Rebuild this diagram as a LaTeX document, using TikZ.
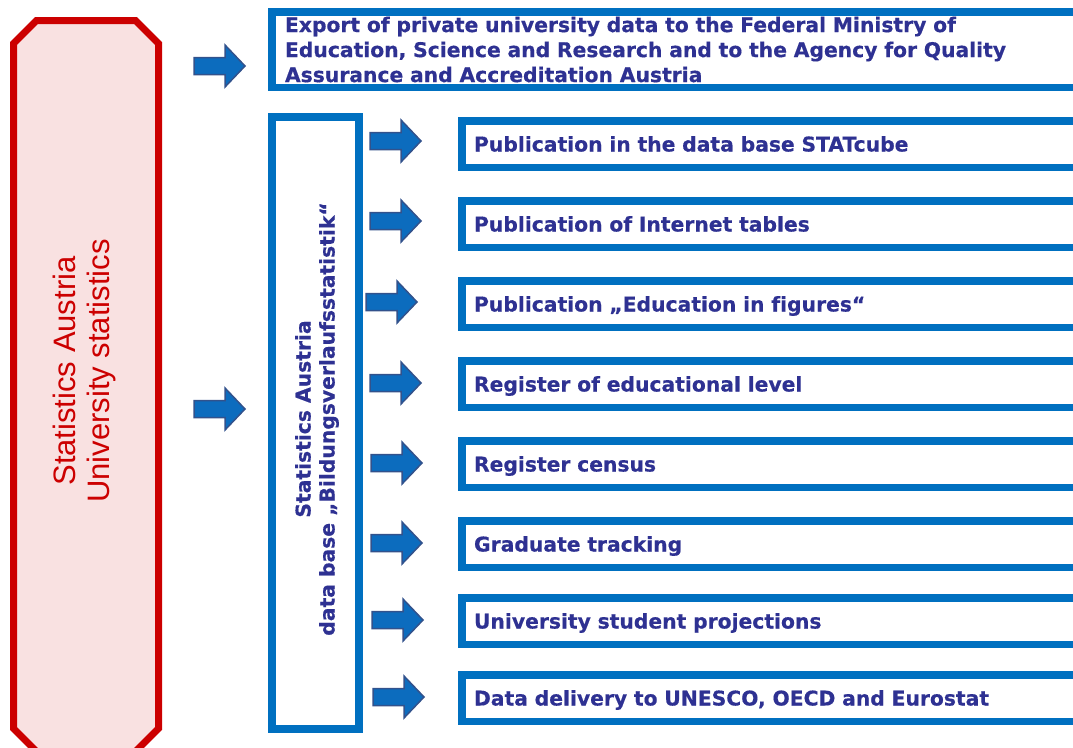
\documentclass[tikz,border=0pt]{standalone}
\usepackage{fontspec}
\setmainfont{DejaVu Sans}[Ligatures=NoCommon, BoldFeatures={FakeBold=0.4}]
\newfontfamily\redfont{Liberation Sans}
\usetikzlibrary{calc}

\definecolor{boxblue}{RGB}{0,112,192}
\definecolor{inkblue}{RGB}{46,49,146}
\definecolor{arrowfill}{RGB}{12,108,190}
\definecolor{arrowline}{RGB}{50,82,140}
\definecolor{octred}{RGB}{204,0,0}
\definecolor{octfill}{RGB}{249,225,225}

\tikzset{
  frame/.style={draw=boxblue, line width=7.5pt, fill=white, outer sep=3.75pt, inner ysep=0pt},
  label/.style={text=inkblue, font=\bfseries\fontsize{20.3}{24}\selectfont},
  item/.style={frame, label, anchor=north west, minimum height=46.5pt, text width=640pt,
    inner xsep=12.25pt, text height=15pt, text depth=0pt, align=left},
  pics/blockarrow/.style={code={
    \draw[fill=arrowfill, draw=arrowline, line width=1.5pt, line join=miter]
      (0,-8.5) -- (31,-8.5) -- (31,-21) -- (51,0) -- (31,21) -- (31,8.5) -- (0,8.5) -- cycle;}},
}

\begin{document}
\begin{tikzpicture}[x=1pt, y=-1pt]
\useasboundingbox (0,0) rectangle (1073,747);
\clip (0,0) rectangle (1073,747);

% source: university statistics (octagon)
\draw[draw=octred, fill=octfill, line width=7pt, line join=miter]
  (36.5,20.5) -- (135.5,20.5) -- (158.5,43.5) -- (158.5,728.5) -- (135.5,751.5)
  -- (36.5,751.5) -- (13.5,728.5) -- (13.5,43.5) -- cycle;
\node[rotate=90, text=octred, font=\redfont\fontsize{31}{34}\selectfont, align=center]
  (unistat) at (84,371) {Statistics Austria\\University statistics};

% export box
\node[frame, label, anchor=north west, minimum height=75.5pt, text width=800pt,
      inner xsep=13.25pt, align=left, font=\bfseries\fontsize{20.3}{25}\selectfont]
  (export) at (268,8)
  {Export of private university data to the Federal Ministry of\\
   Education, Science and Research and to the Agency for Quality\\
   Assurance and Accreditation Austria};

% central data base
\node[frame, anchor=north west, minimum width=87pt, minimum height=612pt, inner sep=0pt]
  (db) at (268,113) {};
\node[rotate=90, label, align=center] (dbtext) at (317,419)
  {Statistics Austria\\data base „Bildungsverlaufsstatistik“};

% outputs
\node[item] (b1) at (458,117) {Publication in the data base STATcube};
\node[item] (b2) at (458,197) {Publication of Internet tables};
\node[item] (b3) at (458,277) {Publication „Education in figures“};
\node[item] (b4) at (458,357) {Register of educational level};
\node[item] (b5) at (458,437) {Register census};
\node[item] (b6) at (458,517) {Graduate tracking};
\node[item] (b7) at (458,594) {University student projections};
\node[item] (b8) at (458,671) {Data delivery to UNESCO, OECD and Eurostat};

% block arrows
\pic at (194,66)  {blockarrow};
\pic at (194,409) {blockarrow};
\pic at (370,141) {blockarrow};
\pic at (370,221) {blockarrow};
\pic at (366,302) {blockarrow};
\pic at (370,383) {blockarrow};
\pic at (371,463) {blockarrow};
\pic at (371,543) {blockarrow};
\pic at (372,620) {blockarrow};
\pic at (373,697) {blockarrow};
\end{tikzpicture}
\end{document}
